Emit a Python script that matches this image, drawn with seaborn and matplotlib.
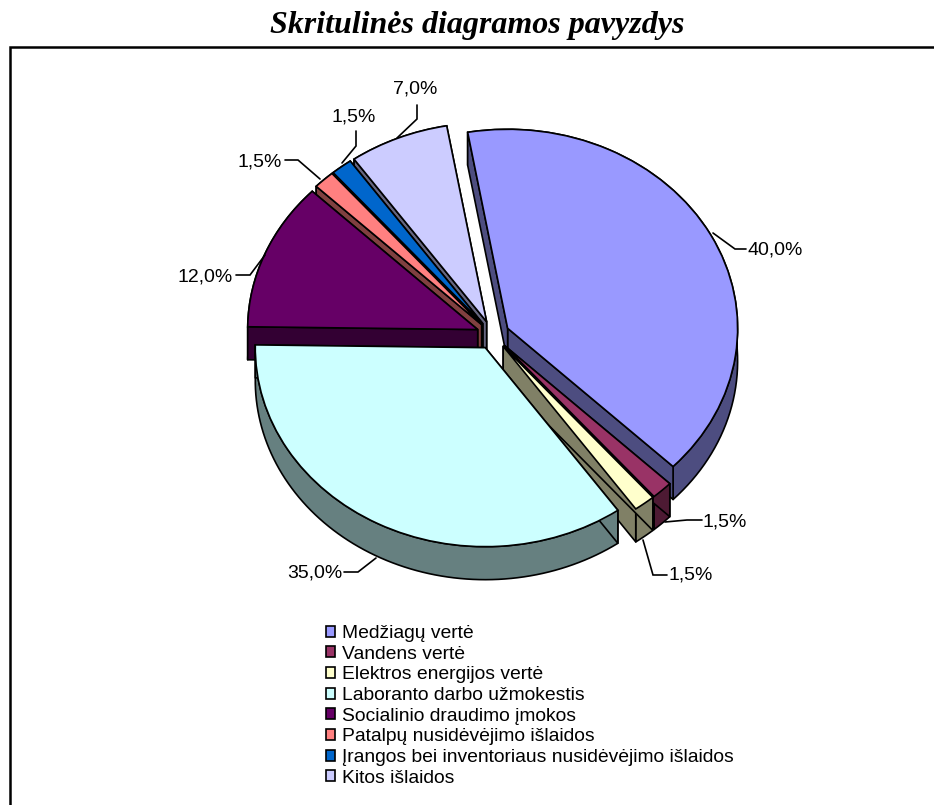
import numpy as np
import matplotlib
matplotlib.use("Agg")
import matplotlib.pyplot as plt
import seaborn as sns
from matplotlib.lines import Line2D
from matplotlib.patches import Patch, Polygon

# chart values
categories = [
    "Medžiagų vertė",
    "Vandens vertė",
    "Elektros energijos vertė",
    "Laboranto darbo užmokestis",
    "Socialinio draudimo įmokos",
    "Patalpų nusidėvėjimo išlaidos",
    "Įrangos bei inventoriaus nusidėvėjimo išlaidos",
    "Kitos išlaidos",
]
shares = [40.0, 1.5, 1.5, 35.0, 12.0, 1.5, 1.5, 7.0]
colors = ["#9999FF", "#993366", "#FFFFCC", "#CCFFFF", "#660066", "#FF8080", "#0066CC", "#CCCCFF"]
title = "Skritulinės diagramos pavyzdys"

# layout, in pixels of the 934x805 picture
W, H = 934, 805
CX, CY = 493, 335
RX, RY = 230, 199
DEPTH = 33 / RY
EXPLODE = 0.072
LW = 1.2

# leader line and label anchor for each slice
leaders = [
    [(713, 233), (735, 249), (746, 249)],
    [(665, 522), (687, 520), (702, 520)],
    [(643, 540), (653, 575), (667, 575)],
    [(376, 558), (358, 572), (344, 572)],
    [(265, 255), (250, 275), (236, 275)],
    [(320, 179), (298, 160), (285, 160)],
    [(342, 163), (356, 146), (356, 131)],
    [(397, 138), (417, 119), (417, 105)],
]
label_pos = [(748, 250, "left"), (703, 522, "left"), (669, 575, "left"), (342, 573, "right"),
             (233, 277, "right"), (282, 162, "right"), (354, 117, "center"), (415, 89, "center")]
# back to front
draw_order = [7, 6, 5, 4, 0, 1, 2, 3]

sns.set_theme(style="white")
plt.rcParams["font.family"] = ["Liberation Sans", "DejaVu Sans"]
palette = sns.color_palette(colors)


def px(x, y):
    return (x - CX) / RX, (CY - y) / RY


fig = plt.figure(figsize=(W / 100, H / 100), dpi=100)
ax = fig.add_axes([0, 0, 1, 1])

wedges, _ = ax.pie(
    shares,
    colors=palette,
    explode=[EXPLODE] * len(shares),
    startangle=100,
    counterclock=False,
    radius=1,
    wedgeprops={"edgecolor": "black", "linewidth": LW},
)
ax.set_aspect("auto")
ax.set_xlim(-CX / RX, (W - CX) / RX)
ax.set_ylim((CY - H) / RY, CY / RY)
ax.axis("off")

for rank, i in enumerate(draw_order):
    w = wedges[i]
    w.set_zorder(10 + 2 * rank + 1)
    dark = tuple(c / 2 for c in palette[i])
    cx, cy = w.center
    t = np.radians(np.linspace(w.theta1, w.theta2, 80))
    ax_x = cx + w.r * np.cos(t)
    ax_y = cy + w.r * np.sin(t)
    arc = np.column_stack([ax_x, ax_y])
    down = np.array([0, -DEPTH])
    rim = np.vstack([arc, (arc + down)[::-1]])
    faces = [
        rim,
        np.array([[cx, cy], arc[0], arc[0] + down, [cx, cy - DEPTH]]),
        np.array([[cx, cy], arc[-1], arc[-1] + down, [cx, cy - DEPTH]]),
    ]
    for f in faces:
        ax.add_patch(Polygon(f, closed=True, facecolor=dark, edgecolor="black",
                             linewidth=LW, joinstyle="round", zorder=10 + 2 * rank))

# data labels with leader lines
for i, v in enumerate(shares):
    pts = np.array([px(*p) for p in leaders[i]])
    ax.plot(pts[:, 0], pts[:, 1], color="black", lw=LW, zorder=40, solid_joinstyle="miter")
    lx, ly, ha = label_pos[i]
    ax.text(*px(lx, ly), f"{v:.1f}%".replace(".", ","), ha=ha, va="center",
            fontsize=14, color="black", zorder=41)

# legend
handles = [Patch(facecolor=palette[i], edgecolor="black", linewidth=LW) for i in range(len(categories))]
leg = fig.legend(
    handles, categories,
    loc="upper left",
    bbox_to_anchor=(325.5 / W, 1 - 625 / H),
    frameon=False,
    fontsize=13.85,
    labelcolor="black",
    handlelength=0.5,
    handleheight=0.5,
    handletextpad=0.38,
    labelspacing=0.19,
    borderpad=0,
    borderaxespad=0,
)

# title and outer frame: only the left and top rules are in the picture
fig.text(477 / W, 1 - 26 / H, title, ha="center", va="center", fontsize=23,
         family="Liberation Serif", weight="bold", style="italic", color="black")
frame_x = [10 / W, 10 / W, 1]
frame_y = [0, 1 - 47 / H, 1 - 47 / H]
fig.add_artist(Line2D(frame_x, frame_y, color="black", lw=1.8, transform=fig.transFigure,
                      solid_joinstyle="miter"))

fig.savefig("out.png", dpi=100, facecolor="white")
